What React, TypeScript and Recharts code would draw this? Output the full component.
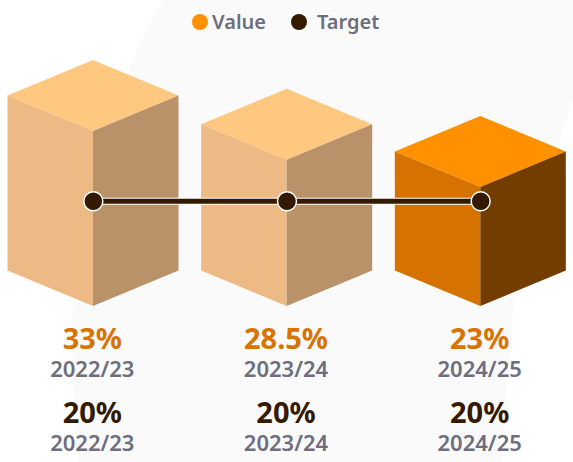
import { Bar, ComposedChart, Legend, Line, XAxis, YAxis } from "recharts";

const seasons = ["2022/23", "2023/24", "2024/25"];
const cubeValues = [33.4, 27.9, 22.7];
const targetValues = [20, 20, 20];
const valueLabels = ["33%", "28.5%", "23%"];
const targetLabels = ["20%", "20%", "20%"];

const CHART_WIDTH = 573;
const CHART_HEIGHT = 462;
const FONT = '"Noto Sans", sans-serif';
const ORANGE = "#ff9100";
const DARK = "#331a00";
const GREY = "#6e6e7e";
const VALUE_TEXT = "#d97300";
const CUBE_DROP = 35.5;

const chartData = seasons.map((season, i) => ({
  season,
  value: cubeValues[i],
  target: targetValues[i],
}));

const Cube = ({ x, y, width, height, index }: any) => {
  const faded = index !== seasons.length - 1;
  const cx = x + width / 2;
  const right = x + width;
  const bottom = y + height;
  return (
    <g>
      <polygon
        fill={faded ? "#ffc880" : ORANGE}
        points={`${cx},${y - CUBE_DROP * 2} ${right},${y - CUBE_DROP} ${cx},${y} ${x},${y - CUBE_DROP}`}
      />
      <polygon
        fill={faded ? "#edb985" : "#d67200"}
        points={`${x},${y - CUBE_DROP} ${cx},${y} ${cx},${bottom} ${x},${bottom - CUBE_DROP}`}
      />
      <polygon
        fill={faded ? "#ba9269" : "#733d00"}
        points={`${cx},${y} ${right},${y - CUBE_DROP} ${right},${bottom - CUBE_DROP} ${cx},${bottom}`}
      />
    </g>
  );
};

const StackedTick = ({ x, y, index, payload }: any) => (
  <g fontFamily={FONT} textAnchor="middle">
    <text fill={VALUE_TEXT} fontSize={29} fontWeight={700} x={x - 1} y={y + 35}>
      {valueLabels[index]}
    </text>
    <text fill={GREY} fontSize={22} fontWeight={600} x={x - 1} y={y + 63}>
      {payload.value}
    </text>
    <text fill={DARK} fontSize={29} fontWeight={700} x={x - 1} y={y + 109}>
      {targetLabels[index]}
    </text>
    <text fill={GREY} fontSize={22} fontWeight={600} x={x - 1} y={y + 137}>
      {payload.value}
    </text>
  </g>
);

const LegendRow = () => (
  <div
    style={{
      color: GREY,
      display: "flex",
      fontFamily: FONT,
      fontSize: 20,
      fontWeight: 600,
      lineHeight: "28px",
    }}
  >
    {[
      { name: "Value", color: ORANGE, width: 99 },
      { name: "Target", color: DARK },
    ].map((item) => (
      <div
        key={item.name}
        style={{ alignItems: "center", display: "flex", width: item.width }}
      >
        <span
          style={{
            background: item.color,
            borderRadius: "50%",
            height: 16,
            marginRight: item.name === "Target" ? 10 : 4,
            width: 16,
          }}
        />
        {item.name}
      </div>
    ))}
  </div>
);

export default function App() {
  return (
    <div
      style={{
        height: CHART_HEIGHT,
        left: 0,
        position: "absolute",
        top: 0,
        width: CHART_WIDTH,
      }}
    >
      <svg
        height={CHART_HEIGHT}
        style={{ left: 0, position: "absolute", top: 0 }}
        width={CHART_WIDTH}
      >
        <path
          d="M163,0 C120,75 80,190 73,300 C72,360 75,420 78,462 L502,462 C506,400 508,350 515,300 C525,240 545,180 573,100 L573,0 Z"
          fill="#fafafa"
        />
      </svg>
      <ComposedChart
        data={chartData}
        height={CHART_HEIGHT}
        margin={{ top: 16, right: -4.5, bottom: 0, left: -3.5 }}
        style={{ position: "absolute" }}
        width={CHART_WIDTH}
      >
        <XAxis
          axisLine={false}
          dataKey="season"
          height={156}
          interval={0}
          tick={<StackedTick />}
          tickLine={false}
        />
        <YAxis domain={[0, 50]} hide />
        <Legend
          content={<LegendRow />}
          verticalAlign="top"
          wrapperStyle={{ left: 192, top: 8, width: "auto" }}
        />
        <Bar
          barSize={171}
          dataKey="value"
          isAnimationActive={false}
          shape={<Cube />}
        />
        <Line
          dataKey="target"
          dot={false}
          isAnimationActive={false}
          legendType="none"
          stroke="#ffffff"
          strokeWidth={7}
        />
        <Line
          dataKey="target"
          dot={{ fill: DARK, r: 9.5, stroke: "#ffffff", strokeWidth: 1.5 }}
          isAnimationActive={false}
          stroke={DARK}
          strokeWidth={5}
        />
      </ComposedChart>
    </div>
  );
}
